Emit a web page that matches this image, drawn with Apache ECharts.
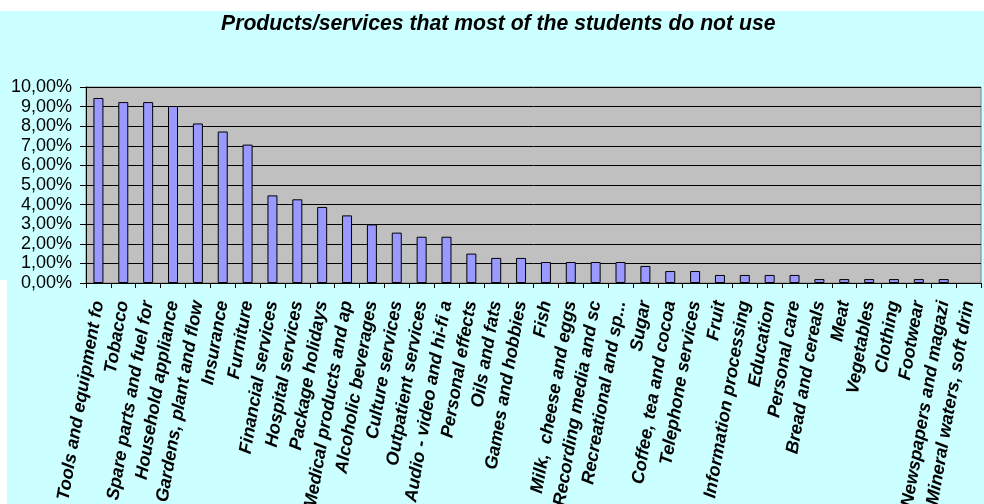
<!DOCTYPE html>
<html>
<head>
<meta charset="utf-8">
<script src="https://cdn.jsdelivr.net/npm/echarts@6/dist/echarts.min.js"></script>
<style>
html,body{margin:0;padding:0;background:#ffffff;}
#chart{width:984px;height:504px;}
</style>
</head>
<body>
<div id="chart"></div>
<script>
const titleText = 'Products/services that most of the students do not use';
const categories = [
  'Tools and equipment fo', 'Tobacco', 'Spare parts and fuel for', 'Household appliance',
  'Gardens, plant and flow', 'Insurance', 'Furniture', 'Financial services',
  'Hospital services', 'Package holidays', 'Medical products and ap', 'Alcoholic beverages',
  'Culture services', 'Outpatient services', 'Audio - video and hi-fi a', 'Personal effects',
  'Oils and fats', 'Games and hobbies', 'Fish', 'Milk,  cheese and eggs',
  'Recording media and sc', 'Recreational and sp...', 'Sugar', 'Coffee, tea and cocoa',
  'Telephone services', 'Fruit', 'Information processing', 'Education',
  'Personal care', 'Bread and cereals', 'Meat', 'Vegetables',
  'Clothing', 'Footwear', 'Newspapers and magazi', 'Mineral waters, soft drin'
];
const values = [
  9.44, 9.23, 9.23, 9.03,
  8.14, 7.73, 7.06, 4.47,
  4.27, 3.88, 3.45, 2.99,
  2.57, 2.36, 2.36, 1.50,
  1.28, 1.28, 1.07, 1.07,
  1.07, 1.07, 0.87, 0.61,
  0.61, 0.41, 0.41, 0.41,
  0.41, 0.20, 0.20, 0.20,
  0.20, 0.20, 0.20, 0
];
const yMin = 0, yMax = 10, yStep = 1;

const chart = echarts.init(document.getElementById('chart'), null, {renderer: 'canvas'});
chart.setOption({
  animation: false,
  backgroundColor: '#ffffff',
  textStyle: {fontFamily: 'Liberation Sans'},
  graphic: [
    {type: 'rect', z: -10, silent: true, shape: {x: 0, y: 11, width: 984, height: 493}, style: {fill: '#CCFFFF'}},
    {type: 'rect', z: -9, silent: true, shape: {x: 0, y: 280, width: 7, height: 224}, style: {fill: '#ffffff'}}
  ],
  title: {
    text: titleText,
    left: 216,
    top: 9,
    textStyle: {fontFamily: 'Liberation Sans', fontSize: 21.2, fontWeight: 'bold', fontStyle: 'italic', color: '#000'}
  },
  grid: {
    left: 86, right: 3, top: 87, bottom: 221,
    containLabel: false, outerBoundsMode: 'none',
    show: true, backgroundColor: '#C0C0C0', borderColor: '#808080', borderWidth: 1
  },
  xAxis: {
    type: 'category',
    data: categories,
    axisLine: {lineStyle: {color: '#000', width: 1}},
    axisTick: {show: true, length: 5, lineStyle: {color: '#000'}},
    axisLabel: {
      interval: 0, rotate: 80, margin: 18,
      fontFamily: 'Liberation Sans', fontSize: 18, fontWeight: 'bold', fontStyle: 'italic', color: '#000'
    },
    splitLine: {show: false}
  },
  yAxis: {
    type: 'value',
    min: yMin, max: yMax, interval: yStep,
    axisLine: {show: true, lineStyle: {color: '#000', width: 1}},
    axisTick: {show: true, length: 6, lineStyle: {color: '#000'}},
    axisLabel: {
      margin: 14, fontFamily: 'Liberation Sans', fontSize: 18, color: '#000',
      formatter: v => v.toFixed(2).replace('.', ',') + '%'
    },
    splitLine: {show: true, lineStyle: {color: '#000', width: 1}}
  },
  series: [{
    type: 'bar',
    data: values.map(v => (v === 0 ? null : v)),
    barWidth: 10,
    itemStyle: {color: '#9999FF', borderColor: '#000', borderWidth: 1}
  }]
});
</script>
</body>
</html>
